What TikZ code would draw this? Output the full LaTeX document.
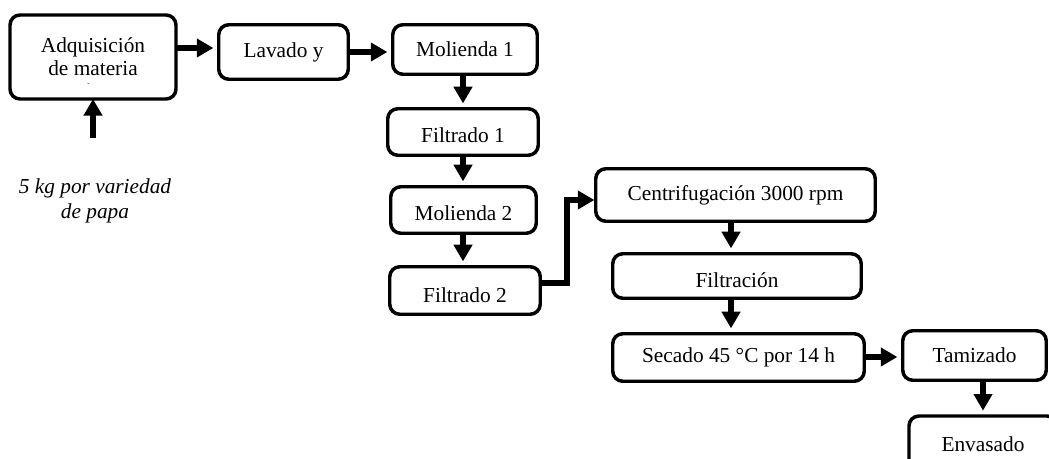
\documentclass[tikz,border=0pt]{standalone}
\usepackage{fontspec}
\setmainfont{Liberation Serif}
\usetikzlibrary{arrows.meta}
\begin{document}
\begin{tikzpicture}[x=0.75pt,y=-0.75pt,
 bx/.style={draw, line width=2.6pt, rounded corners=7.5pt, inner sep=0pt, outer sep=0pt, align=center, font=\fontsize{16}{17.25}\selectfont},
 sz/.style 2 args={minimum width=#1*0.75pt, minimum height=#2*0.75pt},
 arr/.style={line width=4.9pt, -{Triangle[length=12.5pt,width=13.5pt]}, shorten >=4pt},
]
\clip (0,0) rectangle (1049,459);
\node[bx, sz={166}{84}] (adq) at (93,57) {Adquisición\\de materia};
\node[font=\fontsize{5}{5}\selectfont, inner sep=0pt] (dot) at (88.5,84.5) {-};
\node[bx, sz={129.5}{54.5}] (lav) at (283.5,52) {Lavado y};
\node[bx, sz={144.5}{49.5}] (m1) at (465,49.5) {Molienda 1};
\node[bx, sz={150.5}{46.5}, text height=15.5pt] (f1) at (463,132) {Filtrado 1};
\node[bx, sz={145.5}{46.5}, text height=15.5pt] (m2) at (463.5,210) {Molienda 2};
\node[bx, sz={150.5}{47.5}, text height=17.5pt] (f2) at (465,290.5) {Filtrado 2};
\node[bx, sz={279.5}{52.5}] (cen) at (735.5,195) {Centrifugación 3000 rpm};
\node[bx, sz={248.5}{44.5}, text height=17pt] (fil) at (737,276) {Filtración};
\node[bx, sz={251.5}{47.5}] (sec) at (738.5,357.5) {Secado 45 °C por 14 h};
\node[bx, sz={143.5}{49.5}] (tam) at (974.5,355.5) {Tamizado};
\node[bx, sz={148}{56}] (env) at (983,444) {Envasado};
\node[font=\fontsize{16}{18.75}\selectfont\itshape, align=center, inner sep=0pt] (note) at (95,200.5) {5 kg por variedad\\de papa};
\coordinate (ya) at (0,48);
\coordinate (yb) at (0,52);
\coordinate (xc) at (463,0);
\coordinate (k1) at (567,283);
\coordinate (k2) at (567,200);
\coordinate (xd) at (731,0);
\coordinate (ye) at (0,357);
\coordinate (xf) at (983,0);
\coordinate (src) at (93,138);
\draw[arr] (adq.east |- ya) -- (lav.west |- ya);
\draw[arr] (lav.east |- yb) -- (m1.west |- yb);
\draw[arr] (m1.south -| xc) -- (f1.north -| xc);
\draw[arr] (f1.south -| xc) -- (m2.north -| xc);
\draw[arr] (m2.south -| xc) -- (f2.north -| xc);
\draw[arr, shorten >=1pt] (f2.east |- k1) -- (k1) -- (k2) -- (cen.west |- k2);
\draw[arr] (cen.south -| xd) -- (fil.north -| xd);
\draw[arr] (fil.south -| xd) -- (sec.north -| xd);
\draw[arr] (sec.east |- ye) -- (tam.west |- ye);
\draw[arr] (tam.south -| xf) -- (env.north -| xf);
\draw[arr, shorten >=0pt] (src) -- (adq.south);
\end{tikzpicture}
\end{document}
